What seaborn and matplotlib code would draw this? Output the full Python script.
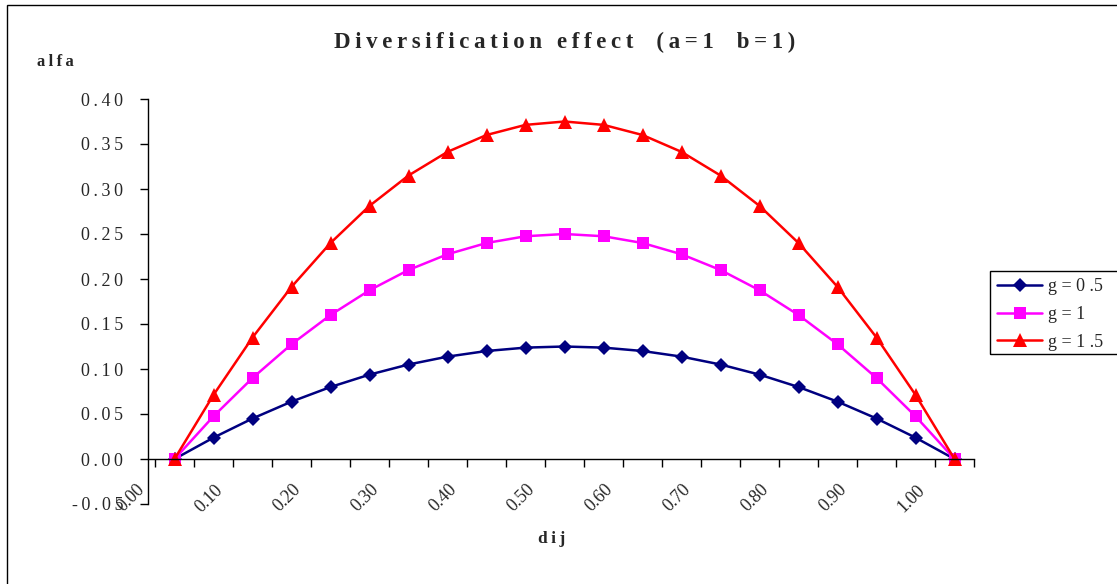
import matplotlib
matplotlib.use("Agg")
import matplotlib.pyplot as plt
import seaborn as sns
import pandas as pd
from matplotlib.patches import Rectangle

# ---- data ----
dij = [0.00, 0.05, 0.10, 0.15, 0.20, 0.25, 0.30, 0.35, 0.40, 0.45, 0.50,
       0.55, 0.60, 0.65, 0.70, 0.75, 0.80, 0.85, 0.90, 0.95, 1.00]
alfa_g05 = [0.0, 0.02375, 0.045, 0.06375, 0.08, 0.09375, 0.105, 0.11375, 0.12, 0.12375, 0.125,
            0.12375, 0.12, 0.11375, 0.105, 0.09375, 0.08, 0.06375, 0.045, 0.02375, 0.0]
alfa_g1 = [0.0, 0.0475, 0.09, 0.1275, 0.16, 0.1875, 0.21, 0.2275, 0.24, 0.2475, 0.25,
           0.2475, 0.24, 0.2275, 0.21, 0.1875, 0.16, 0.1275, 0.09, 0.0475, 0.0]
alfa_g15 = [0.0, 0.07125, 0.135, 0.19125, 0.24, 0.28125, 0.315, 0.34125, 0.36, 0.37125, 0.375,
            0.37125, 0.36, 0.34125, 0.315, 0.28125, 0.24, 0.19125, 0.135, 0.07125, 0.0]
series_names = ["g = 0 .5", "g = 1", "g = 1 .5"]
x_tick_labels = ["0.00", "0.10", "0.20", "0.30", "0.40", "0.50",
                 "0.60", "0.70", "0.80", "0.90", "1.00"]
y_ticks = [-0.05, 0.00, 0.05, 0.10, 0.15, 0.20, 0.25, 0.30, 0.35, 0.40]

df = pd.concat([
    pd.DataFrame({"dij": dij, "alfa": vals, "series": name})
    for name, vals in zip(series_names, [alfa_g05, alfa_g1, alfa_g15])
], ignore_index=True)

sns.set_theme(style="white")
plt.rcParams["font.family"] = ["Liberation Serif", "DejaVu Serif"]

def spaced(s, sep="\u2009"):
    return sep.join(s)

W, H = 1117, 584
fig = plt.figure(figsize=(W / 100, H / 100), dpi=100)
ax = fig.add_axes([148 / W, 80 / H, (974 - 148) / W, (504 - 99) / H])

palette = {series_names[0]: "#000080", series_names[1]: "#FF00FF", series_names[2]: "#FF0000"}
markers = {series_names[0]: "D", series_names[1]: "s", series_names[2]: "^"}
sizes = {series_names[0]: 7, series_names[1]: 9, series_names[2]: 9.5}

for name in series_names:
    sub = df[df["series"] == name]
    sns.lineplot(data=sub, x="dij", y="alfa", ax=ax, color=palette[name],
                 marker=markers[name], markersize=sizes[name], markeredgewidth=0,
                 linewidth=1.8, label=name, clip_on=False)

ax.set_xlim(-0.025, 1.025)
ax.set_ylim(-0.05, 0.40)

# spines
for s in ["top", "right"]:
    ax.spines[s].set_visible(False)
ax.spines["bottom"].set_position(("data", 0))
for s in ["bottom", "left"]:
    ax.spines[s].set_color("black")
    ax.spines[s].set_linewidth(1.0)

# y ticks
ax.set_yticks(y_ticks)
ax.set_yticklabels([spaced(f"{v:.2f}") for v in y_ticks], fontsize=13)
ax.tick_params(axis="y", which="major", direction="out", length=6, width=1,
               color="black", left=True, pad=12)

# x ticks: boundaries between categories (major), labels via minor ticks
bounds = [-0.025 + 0.05 * k for k in range(22)]
ax.set_xticks(bounds)
ax.set_xticklabels([])
ax.tick_params(axis="x", which="major", direction="out", length=6, width=1,
               color="black", bottom=True)
label_pos = [dij[2 * i] - 0.034 for i in range(len(x_tick_labels))]
ax.set_xticks(label_pos, minor=True)
ax.set_xticklabels(x_tick_labels, minor=True, rotation=45, ha="right",
                   va="top", fontsize=13)
ax.tick_params(axis="x", which="minor", length=0, pad=16)

ax.set_xlabel("")
ax.set_ylabel("")
ax.grid(False)

# titles / labels
fig.text(565 / W, 1 - 42 / H, spaced("Diversification effect") + "\u2002\u2002" +
         spaced("(a=1") + "\u2002\u2002" + spaced("b=1)"),
         ha="center", va="center", fontsize=16.5, fontweight="bold")
fig.text(55 / W, 1 - 62 / H, spaced("alfa"), ha="center", va="center",
         fontsize=12, fontweight="bold")
fig.text(552 / W, 1 - 539 / H, "d" + "\u2009" + spaced("ij"), ha="center",
         va="center", fontsize=12.5, fontweight="bold")

# legend (frame drawn separately; it runs past the right edge in the reference)
leg = ax.legend(loc="upper left", bbox_to_anchor=(997 / W, 1 - 278 / H),
                bbox_transform=fig.transFigure, frameon=False, fontsize=13,
                borderpad=0.0, handlelength=2.5, handletextpad=0.35,
                labelspacing=0.6, borderaxespad=0)
fig.patches.append(Rectangle((990 / W, 1 - 354 / H), 200 / W, 83 / H,
                             transform=fig.transFigure, fill=False,
                             edgecolor="black", linewidth=1.0))

# outer chart-area frame (only top and left edges fall inside the image)
fig.patches.append(Rectangle((7 / W, -20 / H), 1200 / W, (584 - 5 + 20) / H,
                             transform=fig.transFigure, fill=False,
                             edgecolor="black", linewidth=1.0))

fig.savefig("out.png", dpi=100)
